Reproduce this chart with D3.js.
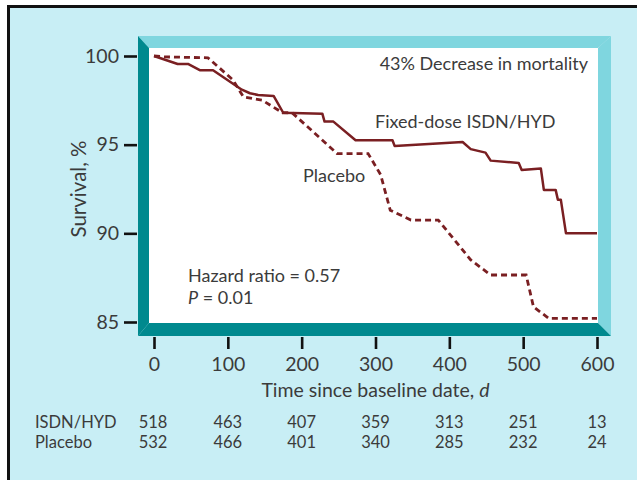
<!DOCTYPE html>
<html>
<head>
<meta charset="utf-8">
<script src="https://cdn.jsdelivr.net/npm/d3@7"></script>
<style>
  body { margin: 0; background: #fff; }
  svg { display: block; font-family: Lato, "Open Sans", sans-serif; }
  .txt { fill: #3b3b3b; }
</style>
</head>
<body>
<svg width="637" height="480"></svg>
<script>
// survival curves (days, %)
var isdnTime = [0, 32, 46, 62, 80, 119, 130, 141, 162, 175, 228, 231, 243, 273, 323, 326, 418, 429, 449, 456, 494, 498, 524, 528, 544, 547, 551, 558, 600]
var isdnSurv = [100, 99.55, 99.55, 99.2, 99.2, 98.1, 97.9, 97.8, 97.75, 96.8, 96.75, 96.3, 96.3, 95.25, 95.25, 94.92, 95.15, 94.75, 94.55, 94.1, 93.97, 93.57, 93.65, 92.45, 92.45, 91.9, 91.9, 90.0, 90.0]

var placeboTime = [0, 15, 73, 107, 121, 147, 174, 187, 248, 290, 307, 320, 348, 385, 429, 456, 504, 514, 535, 600]
var placeboSurv = [100, 99.95, 99.9, 98.65, 97.7, 97.5, 96.8, 96.8, 94.5, 94.5, 93.3, 91.3, 90.75, 90.75, 88.5, 87.65, 87.65, 85.85, 85.2, 85.2]

var xTicks = [0, 100, 200, 300, 400, 500, 600]
var yTicks = [85, 90, 95, 100]

var atRiskIsdn = [518, 463, 407, 359, 313, 251, 13]
var atRiskPlacebo = [532, 466, 401, 340, 285, 232, 24]

var svg = d3.select('svg')

var mapX = d3.scaleLinear().domain([0, 600]).range([154, 597])
var mapY = d3.scaleLinear().domain([85, 100]).range([322, 56])

// background + outer border
svg.append('rect').attr('x', 0).attr('y', 0).attr('width', 637).attr('height', 480).attr('fill', '#fff')
svg.append('rect').attr('x', 8.5).attr('y', 6.5).attr('width', 660).attr('height', 500)
    .attr('fill', '#c8eef5').attr('stroke', '#111').attr('stroke-width', 3)

// bevelled frame round the plot
var L = 138, T = 36, R = 611, B = 336, bw = 11
var light = '#7fd6df', dark = '#00898e'
svg.append('rect').attr('x', L + bw).attr('y', T + bw).attr('width', R - L - 2 * bw).attr('height', B - T - 2 * bw).attr('fill', '#fff')
var polys = [
    {c: light, p: [[L, T], [R, T], [R - bw - 2, T + bw + 1], [L + bw, T + bw + 1]]},
    {c: light, p: [[R, T], [R, B], [R - bw - 2, B - bw - 2], [R - bw - 2, T + bw + 1]]},
    {c: dark, p: [[L, T], [L + bw, T + bw + 1], [L + bw, B - bw - 2], [L, B]]},
    {c: dark, p: [[L, B], [L + bw, B - bw - 2], [R - bw - 2, B - bw - 2], [R, B]]}
]
svg.selectAll('polygon').data(polys).enter().append('polygon')
    .attr('points', function(d) { return d.p.join(' ') })
    .attr('fill', function(d) { return d.c })

// curves
var line = d3.line()
    .x(function(d) { return mapX(d[0]) })
    .y(function(d) { return mapY(d[1]) })

var isdnPts = isdnTime.map(function(t, i) { return [t, isdnSurv[i]] })
var placeboPts = placeboTime.map(function(t, i) { return [t, placeboSurv[i]] })

svg.append('path').attr('d', line(placeboPts))
    .attr('fill', 'none').attr('stroke', '#7a1f22').attr('stroke-width', 2.8)
    .attr('stroke-dasharray', '6,4')
svg.append('path').attr('d', line(isdnPts))
    .attr('fill', 'none').attr('stroke', '#7a1f22').attr('stroke-width', 2.5)
    .attr('stroke-linejoin', 'round')

// axes
var yAxis = d3.axisLeft(mapY).tickValues(yTicks).tickSize(13).tickPadding(5)
var gy = svg.append('g').attr('transform', 'translate(137,0)').call(yAxis)
var xAxis = d3.axisBottom(mapX).tickValues(xTicks).tickSize(12).tickPadding(8)
var gx = svg.append('g').attr('transform', 'translate(0,337)').call(xAxis)

;[gx, gy].forEach(function(g) {
    g.select('.domain').remove()
    g.selectAll('line').attr('stroke', '#111').attr('stroke-width', 2.6)
    g.selectAll('text').attr('class', 'txt').attr('font-size', 19.5).attr('font-family', 'Lato, sans-serif')
})

// axis titles
svg.append('text').attr('class', 'txt').attr('font-size', 20.5)
    .attr('transform', 'translate(86,189) rotate(-90)').attr('text-anchor', 'middle')
    .text('Survival, %')
var xt = svg.append('text').attr('class', 'txt').attr('font-size', 19.5)
    .attr('x', mapX(300)).attr('y', 397).attr('text-anchor', 'middle')
xt.append('tspan').text('Time since baseline date, ')
xt.append('tspan').attr('font-style', 'italic').text('d')

// annotations
svg.append('text').attr('class', 'txt').attr('font-size', 18).attr('x', 588).attr('y', 70).attr('text-anchor', 'end')
    .text('43% Decrease in mortality')
svg.append('text').attr('class', 'txt').attr('font-size', 18).attr('x', 375).attr('y', 128)
    .text('Fixed-dose ISDN/HYD')
svg.append('text').attr('class', 'txt').attr('font-size', 18).attr('x', 303).attr('y', 182)
    .text('Placebo')
svg.append('text').attr('class', 'txt').attr('font-size', 18).attr('x', 188).attr('y', 282)
    .text('Hazard ratio = 0.57')
var pt = svg.append('text').attr('class', 'txt').attr('font-size', 18).attr('x', 188).attr('y', 304)
pt.append('tspan').attr('font-style', 'italic').text('P')
pt.append('tspan').text(' = 0.01')

// numbers at risk
var rows = [{name: 'ISDN/HYD', vals: atRiskIsdn, y: 428}, {name: 'Placebo', vals: atRiskPlacebo, y: 448}]
rows.forEach(function(r) {
    svg.append('text').attr('class', 'txt').attr('font-size', 16.5).attr('x', 35).attr('y', r.y).text(r.name)
    svg.selectAll(null).data(r.vals).enter().append('text')
        .attr('class', 'txt').attr('font-size', 16.5)
        .attr('x', function(d, i) { return mapX(xTicks[i]) - (i === 0 ? 1 : 0) })
        .attr('y', r.y).attr('text-anchor', 'middle')
        .text(function(d) { return d })
})
</script>
</body>
</html>
